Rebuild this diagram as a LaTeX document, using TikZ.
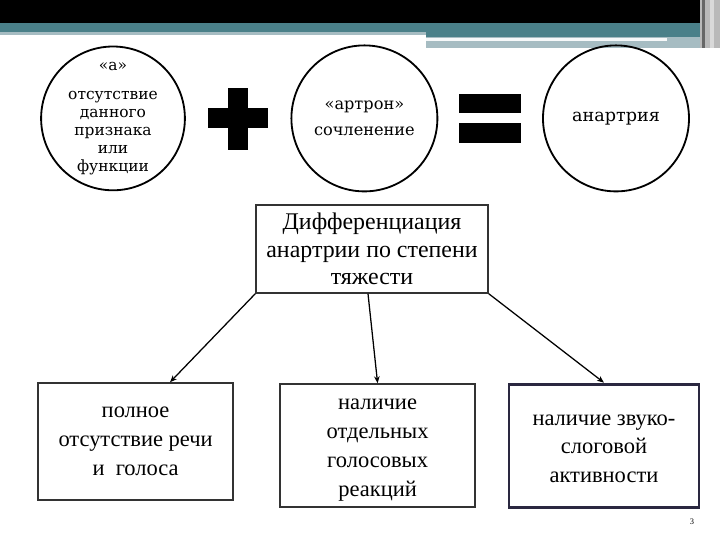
\documentclass[tikz,border=0pt]{standalone}
\usepackage{fontspec}
\setmainfont{Liberation Serif}
\newfontfamily\circfont{DejaVu Serif}
\usepackage{xcolor}
\usepackage{tikz}
\usetikzlibrary{positioning,arrows,arrows.meta,calc,shapes,shapes.geometric}
\definecolor{bandteal}{RGB}{74,128,137}
\definecolor{bandgrey}{RGB}{166,188,194}
\definecolor{framenavy}{RGB}{42,40,64}
\tikzstyle{arrow} = [line width=0.9pt,-{Stealth[length=5pt,width=4pt]}]

\begin{document}
\begin{tikzpicture}[
    >=Stealth,
    every path/.style={line width=1pt},
    circ/.style={
        draw,
        circle,
        line width=1.3pt,
        minimum size=3.6cm,
        inner sep=0pt,
        align=center,
        font=\circfont\fontsize{11}{12.8}\selectfont
    },
    block/.style={
        draw=black!80,
        line width=1.2pt,
        minimum width=4.875cm,
        minimum height=3.0cm,
        align=center,
        font=\fontsize{16}{20.5}\selectfont
    },
    sign/.style={fill=black, draw=none}
]
\useasboundingbox (0,0) rectangle (18,13.5);

% slide header bands
\fill[black] (0,12.925) rectangle (18,13.5);
\fill[bandteal] (0,12.7) rectangle (18,12.925);
\fill[bandgrey] (0,12.625) rectangle (10.65,12.7);
\fill[bandteal] (10.65,12.575) rectangle (17.6,12.7);
\fill[bandgrey] (10.65,12.3) rectangle (17.6,12.575);
\fill[white!90!bandgrey] (10.65,12.47) rectangle (16.675,12.54);
\fill[gray!55] (17.5,12.3) rectangle (18,13.5);
\fill[gray!80!black] (17.55,12.3) rectangle (17.62,13.5);
\fill[gray!30] (17.75,12.3) rectangle (17.85,13.5);

% top row: a + artron = anartria
\node[circ, minimum size=3.55cm] (alpha) at (2.825,10.54)
    {«а»\\[8pt]отсутствие\\данного\\признака\\или\\функции};
\node[circ, minimum size=3.65cm, font=\circfont\fontsize{11.5}{14}\selectfont]
    (artron) at (9.11,10.54) {«артрон»\\[5pt]сочленение};
\node[circ, minimum size=3.65cm, font=\circfont\fontsize{12.5}{14}\selectfont]
    (anart) at (15.4,10.54) {анартрия};

\fill[sign] (5.7,9.75) rectangle (6.2,11.3);
\fill[sign] (5.2,10.3) rectangle (6.7,10.8);
\fill[sign] (11.475,10.675) rectangle (13.025,11.15);
\fill[sign] (11.475,9.925) rectangle (13.025,10.425);

% degree of severity
\node[block, minimum width=5.8cm, minimum height=2.2cm, line width=1pt,
      font=\fontsize{17}{19.5}\selectfont]
    (diff) at (9.3,7.275) {Дифференциация\\анартрии по степени\\тяжести};

\node[block, minimum height=2.925cm] (full) at (3.39,2.46)
    {полное\\отсутствие речи\\и\ \ голоса};
\node[block, minimum height=3.075cm] (voice) at (9.44,2.36)
    {\rule{0pt}{14pt}наличие\\отдельных\\голосовых\\реакций};
\node[block, minimum width=4.75cm, minimum height=3.075cm,
      draw=framenavy, line width=2pt] (syll) at (15.1,2.36)
    {\rule{0pt}{12pt}наличие звуко-\\слоговой\\активности};

\draw[arrow] (diff.south west) -- ([xshift=0.86cm]full.north);
\draw[arrow] ([xshift=-0.1cm]diff.south) -- (voice.north);
\draw[arrow] (diff.south east) -- (syll.north);

\node[font=\fontsize{6}{7}\selectfont] (page) at (17.3,0.45) {3};

\end{tikzpicture}
\end{document}
